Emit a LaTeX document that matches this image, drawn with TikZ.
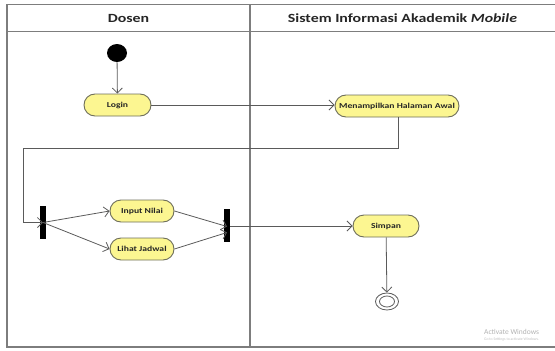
\documentclass[tikz,border=0pt]{standalone}
\usepackage{fontspec}
\setmainfont{Carlito}[FakeStretch=1.27]
\newfontfamily\wmfont{Carlito}
\usetikzlibrary{arrows.meta,shapes.geometric}
\definecolor{frameg}{RGB}{125,125,125}
\definecolor{lineg}{RGB}{90,90,90}
\definecolor{actfill}{RGB}{252,246,145}
\definecolor{actdraw}{RGB}{110,110,90}
\tikzset{
  act/.style={draw=actdraw, fill=actfill, line width=0.9pt, rounded corners=11pt,
    minimum height=22pt, inner sep=0pt, font=\fontsize{7.6}{8}\selectfont\bfseries, text=black!85},
  flow/.style={draw=lineg, line width=0.8pt, -{Straight Barb[length=5pt,width=10pt,line width=0.8pt]}},
  plain/.style={draw=lineg, line width=0.8pt},
  bar/.style={fill=black, draw=none, minimum width=6pt, inner sep=0pt},
  lane/.style={draw=frameg, line width=1.1pt},
  head/.style={font=\fontsize{12.5}{14}\selectfont\bfseries, text=black!85},
}
\begin{document}
\begin{tikzpicture}[x=1pt,y=-1pt]
\useasboundingbox (0,0) rectangle (555,351);
% frame
\draw[lane] (560,4.5) -- (7,4.5) -- (7,347) -- (560,347);
\draw[lane, line width=0.9pt] (7,31) -- (560,31);
\draw[lane] (250,4.5) -- (250,347);
\node[head] (h1) at (128.5,18) {Dosen};
\node[head] (h2) at (402.5,18) {Sistem Informasi Akademik \textit{Mobile}};
% nodes
\node[ellipse, fill=black, minimum width=20pt, minimum height=18pt, inner sep=0pt] (start) at (117,53) {};
\node[act, minimum width=67pt] (login) at (117.5,105) {Login};
\node[act, minimum width=124pt] (menu) at (397,106) {Menampilkan Halaman Awal};
\node[bar, minimum height=33pt] (fork) at (43,222.5) {};
\node[act, minimum width=64pt] (input) at (142,211) {Input Nilai};
\node[act, minimum width=64pt] (lihat) at (142,249) {Lihat Jadwal};
\node[bar, minimum height=33pt] (join) at (227,225.5) {};
\node[act, minimum width=66pt] (simpan) at (386,226) {Simpan};
\node[ellipse, draw=lineg, line width=0.8pt, minimum width=23pt, minimum height=17pt, inner sep=0pt] (end) at (387,301.5) {};
\node[ellipse, draw=lineg, line width=0.8pt, minimum width=15pt, minimum height=11pt, inner sep=0pt] (endin) at (387,301.5) {};
\coordinate (r1) at (398,148);
\coordinate (r2) at (23,148);
\coordinate (r3) at (23,222.5);
% connectors
\draw[flow] (start) -- (login);
\draw[flow] (login) -- (menu.west |- login);
\draw[plain] (menu.south -| r1) -- (r1) -- (r2) -- (r3);
\draw[flow] (r3) -- (fork.center);
\draw[flow] (fork.center) -- (input.west);
\draw[flow] (fork.center) -- (lihat.west);
\draw[flow] (input.east) -- ([yshift=-1pt]join.center);
\draw[flow] (lihat.east) -- ([yshift=-7pt]join.center);
\draw[flow] (join.east |- simpan) -- (simpan.west);
\draw[flow] (simpan) -- (end);
% watermark
\node[anchor=west, text=black!30, font=\wmfont\fontsize{7.5}{8}\selectfont, inner sep=0pt] (wm1) at (484,332) {Activate Windows};
\node[anchor=west, text=black!25, font=\wmfont\fontsize{3.8}{4}\selectfont, inner sep=0pt] (wm2) at (484,339.5) {Go to Settings to activate Windows.};
\end{tikzpicture}
\end{document}
